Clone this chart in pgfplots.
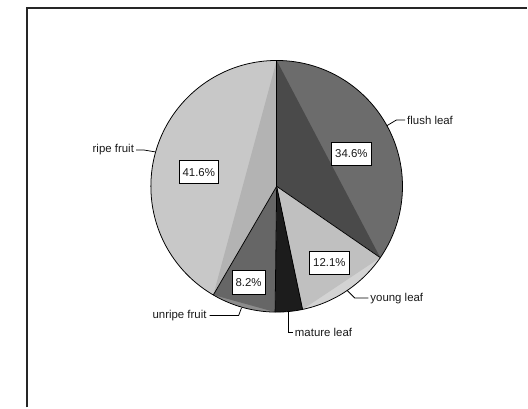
\documentclass[border=0pt]{standalone}
\usepackage{pgfplots}
\usepackage{pgfplotstable}
\pgfplotsset{compat=1.18}
\usepackage{fontspec}
\setmainfont{Liberation Sans}

% share of each plant part (percent)
\pgfplotstableread{
share part
34.6 {flush leaf}
12.1 {young leaf}
3.5 {mature leaf}
8.2 {unripe fruit}
41.6 {ripe fruit}
}\pietable

\definecolor{flushA}{HTML}{4A4A4A}
\definecolor{flushB}{HTML}{6C6C6C}
\definecolor{youngA}{HTML}{C0C0C0}
\definecolor{youngB}{HTML}{D3D3D3}
\definecolor{matureA}{HTML}{1C1C1C}
\definecolor{matureB}{HTML}{1C1C1C}
\definecolor{unripeA}{HTML}{666666}
\definecolor{unripeB}{HTML}{8C8C8C}
\definecolor{ripeA}{HTML}{B3B3B3}
\definecolor{ripeB}{HTML}{C8C8C8}

\newcommand\cx{269.3}
\newcommand\cy{228.5}
\newcommand\R{130bp}
\newcommand\labfont{\fontsize{11.8bp}{13bp}\selectfont}

% one wedge: start angle, end angle, inner colour, rim colour
\newcommand\slice[4]{%
  \fill[#4] (axis cs:\cx,\cy) -- ++(#1:\R) arc[start angle=#1,end angle=#2,radius=\R] -- cycle;
  \fill[#3] (axis cs:\cx,\cy) -- ++(#1:\R) -- ([shift={(#2:\R)}]axis cs:\cx,\cy) -- cycle;
}

\begin{document}
% cumulative angles, clockwise from 12 o'clock
\pgfmathsetmacro\angA{90}
\pgfplotstablegetelem{0}{share}\of\pietable\pgfmathsetmacro\angB{\angA-3.6*\pgfplotsretval}
\pgfplotstablegetelem{1}{share}\of\pietable\pgfmathsetmacro\angC{\angB-3.6*\pgfplotsretval}
\pgfplotstablegetelem{2}{share}\of\pietable\pgfmathsetmacro\angD{\angC-3.6*\pgfplotsretval}
\pgfplotstablegetelem{3}{share}\of\pietable\pgfmathsetmacro\angE{\angD-3.6*\pgfplotsretval}
\pgfplotstablegetelem{4}{share}\of\pietable\pgfmathsetmacro\angF{\angE-3.6*\pgfplotsretval}
\begin{tikzpicture}[
  valbox/.style={draw=black, line width=0.8bp, fill=white, inner xsep=3.5bp,
    minimum height=24bp, anchor=center, font=\labfont, text=black!90},
  catlab/.style={inner sep=1bp, font=\labfont, text=black!90},
]
\begin{axis}[
  width=528bp, height=421bp, scale only axis,
  xmin=0, xmax=528, ymin=0, ymax=421,
  hide axis, clip=false,
]
\path (axis cs:0,0) rectangle (axis cs:528,421);
% outer frame
\draw[line width=2bp, black!85] (axis cs:11,0) -- (axis cs:11,413.2) -- (axis cs:528,413.2);

% wedges
\slice{\angA}{\angB}{flushA}{flushB}
\slice{\angB}{\angC}{youngA}{youngB}
\slice{\angC}{\angD}{matureA}{matureB}
\slice{\angD}{\angE}{unripeA}{unripeB}
\slice{\angE}{\angF}{ripeA}{ripeB}

% outlines
\draw[black, line width=0.8bp] (axis cs:\cx,\cy) circle[radius=\R];
\draw[black, line width=0.8bp] (axis cs:\cx,\cy) -- ++(\angA:\R);
\draw[black, line width=0.8bp] (axis cs:\cx,\cy) -- ++(\angB:\R);
\draw[black, line width=0.8bp] (axis cs:\cx,\cy) -- ++(\angC:\R);
\draw[black, line width=0.8bp] (axis cs:\cx,\cy) -- ++(\angD:\R);
\draw[black, line width=0.8bp] (axis cs:\cx,\cy) -- ++(\angE:\R);

% value boxes
\node[valbox] at (axis cs:346.5,262.3) {34.6\%};
\node[valbox] at (axis cs:188.8,243.0) {41.6\%};
\node[valbox] at (axis cs:323.8,149.7) {12.1\%};
\node[valbox] at (axis cs:240.2,129.3) {8.2\%};

% leader lines and category names
\draw[black, line width=0.8bp] (axis cs:383,291) -- (axis cs:393,297) -- (axis cs:402,297);
\node[catlab, anchor=west] at (axis cs:403,297) {flush leaf};
\draw[black, line width=0.8bp] (axis cs:124,266) -- (axis cs:132,266) -- (axis cs:144,264);
\node[catlab, anchor=east] at (axis cs:123,266) {ripe fruit};
\draw[black, line width=0.8bp] (axis cs:342,121) -- (axis cs:350,113) -- (axis cs:364,113);
\node[catlab, anchor=west] at (axis cs:365,113) {young leaf};
\draw[black, line width=0.8bp] (axis cs:200,95) -- (axis cs:230,95) -- (axis cs:233,103);
\node[catlab, anchor=east] at (axis cs:198,95) {unripe fruit};
\draw[black, line width=0.8bp] (axis cs:281,99) -- (axis cs:281,78) -- (axis cs:286,78);
\node[catlab, anchor=west] at (axis cs:287,78) {mature leaf};
\end{axis}
\end{tikzpicture}
\end{document}
